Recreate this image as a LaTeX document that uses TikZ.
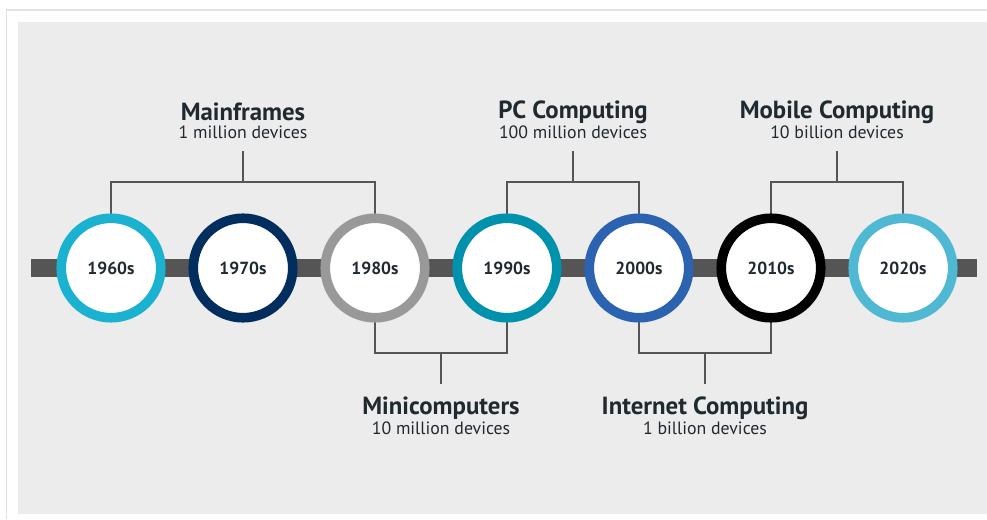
\documentclass[tikz,border=0pt]{standalone}
\usepackage{fontspec}
\setmainfont{PT Sans}
\definecolor{framecol}{HTML}{E2E2E2}
\definecolor{panelcol}{HTML}{ECECEC}
\definecolor{barcol}{HTML}{555555}
\definecolor{linecol}{HTML}{555555}
\definecolor{txtcol}{HTML}{1F2A30}
\definecolor{cA}{HTML}{1BB2D1}
\definecolor{cB}{HTML}{022E5F}
\definecolor{cC}{HTML}{999999}
\definecolor{cD}{HTML}{0092AD}
\definecolor{cE}{HTML}{2B63B0}
\definecolor{cF}{HTML}{000000}
\definecolor{cG}{HTML}{4FB8D2}
\pgfdeclarelayer{bg}
\pgfdeclarelayer{lines}
\pgfsetlayers{bg,lines,main}
\begin{document}
\begin{tikzpicture}[x=1pt,y=-1pt,
  decade/.style={circle,draw=#1,fill=white,line width=9.6pt,minimum size=99.5pt,inner sep=0pt,outer sep=0pt,
    text=txtcol,font=\bfseries\fontsize{17.5}{20}\selectfont},
  bracket/.style={draw=linecol,line width=2pt},
  title/.style={text=txtcol,font=\bfseries\fontsize{24.8}{28}\selectfont,inner sep=0pt},
  sub/.style={text=txtcol,font=\fontsize{17.8}{20}\selectfont,inner sep=0pt}]
\useasboundingbox (0,0) rectangle (987,519);
\begin{pgfonlayer}{bg}
\fill[white] (0,0) rectangle (987,519);
\draw[framecol,line width=1.6pt] (6.5,519) -- (6.5,10) -- (987,10);
\fill[panelcol] (18,22) rectangle (987,513.5);
\fill[barcol] (31,259) rectangle (977,277);
\end{pgfonlayer}

\node[decade=cA] (c1) at (111,268) {1960s};
\node[decade=cB] (c2) at (243,268) {1970s};
\node[decade=cC] (c3) at (375,268) {1980s};
\node[decade=cD] (c4) at (507,268) {1990s};
\node[decade=cE] (c5) at (639,268) {2000s};
\node[decade=cF] (c6) at (771,268) {2010s};
\node[decade=cG] (c7) at (903,268) {2020s};

% top labels
\node[title] (t1) at (243,112) {Mainframes};
\node[sub] (s1) at (243,132.5) {1 million devices};
\node[title] (t2) at (573,112) {PC Computing};
\node[sub] (s2) at (573,132.5) {100 million devices};
\node[title] (t3) at (837,112) {Mobile Computing};
\node[sub] (s3) at (837,132.5) {10 billion devices};
% bottom labels
\node[title] (t4) at (441,408) {Minicomputers};
\node[sub] (s4) at (441,428.5) {10 million devices};
\node[title] (t5) at (705,408) {Internet Computing};
\node[sub] (s5) at (705,428.5) {1 billion devices};

\coordinate (j1) at (243,182); \coordinate (e1) at (243,151);
\coordinate (j2) at (573,182); \coordinate (e2) at (573,151);
\coordinate (j3) at (837,182); \coordinate (e3) at (837,151);
\coordinate (j4) at (441,353); \coordinate (e4) at (441,384);
\coordinate (j5) at (705,353); \coordinate (e5) at (705,384);

\begin{pgfonlayer}{lines}
\draw[bracket] (c1.north) |- (j1) -| (c3.north);
\draw[bracket] (j1) -- (e1);
\draw[bracket] (c4.north) |- (j2) -| (c5.north);
\draw[bracket] (j2) -- (e2);
\draw[bracket] (c6.north) |- (j3) -| (c7.north);
\draw[bracket] (j3) -- (e3);
\draw[bracket] (c3.south) |- (j4) -| (c4.south);
\draw[bracket] (j4) -- (e4);
\draw[bracket] (c5.south) |- (j5) -| (c6.south);
\draw[bracket] (j5) -- (e5);
\end{pgfonlayer}
\end{tikzpicture}
\end{document}
